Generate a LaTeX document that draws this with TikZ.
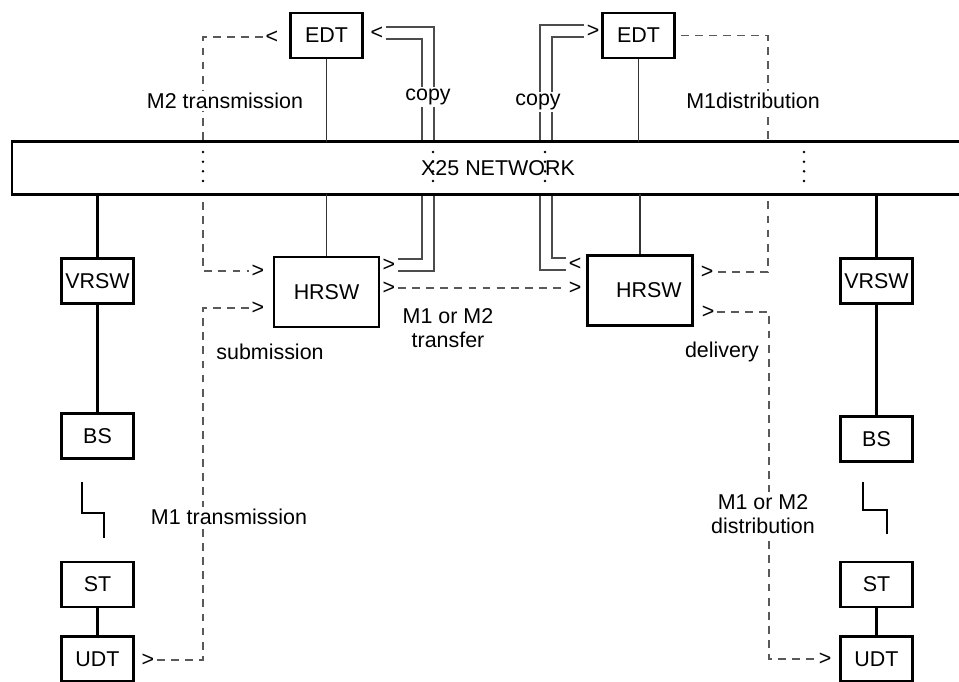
\documentclass[tikz,border=0pt]{standalone}
\usepackage{fontspec}
\setmainfont{Liberation Sans}
\usetikzlibrary{backgrounds}

\begin{document}
\begin{tikzpicture}[x=0.02cm, y=-0.02cm, font=\fontsize{12.2}{14}\selectfont,
        box/.style={draw, line width=1.35pt, minimum width=1.44cm,
                    minimum height=0.9cm, inner sep=0pt},
        swbox/.style={box, minimum width=2.1cm, minimum height=1.4cm},
        chev/.style={inner sep=1.5pt},
        lbl/.style={fill=white, inner sep=1pt, align=center},
        msg/.style={draw=black!65, line width=0.65pt,
                    dash pattern=on 4.5pt off 3.5pt},
        wire/.style={draw=black!80, line width=0.65pt},
        trunk/.style={line width=1.35pt},
        copyln/.style={draw=black!70, line width=0.65pt, double,
                       double distance=6.2pt},
        bardots/.style={line width=1.6pt, line cap=round,
                        dash pattern=on 0pt off 5.5pt}]
  \useasboundingbox (0,0) rectangle (959,681);
  \node[fill=white, minimum width=19.44cm, minimum height=1.04cm]
        (net) at (498,168) {X25 NETWORK};
  \draw[trunk] (net.north east) -- (net.north west) -- (net.south west)
        -- (net.south east);

  \node[box]   (edtL)  at (326.5,35.5) {EDT};
  \node[box]   (edtR)  at (638.5,35.5) {EDT};
  \node[swbox] (hrswL) at (326.5,292)  {HRSW};
  \node[swbox] (hrswR) at (640,290.5)  {\hspace{10pt}HRSW};
  \node[box]   (vrswL) at (97.5,281)   {VRSW};
  \node[box]   (bsL)   at (97.5,436)   {BS};
  \node[box]   (stL)   at (97.5,584.5) {ST};
  \node[box]   (udtL)  at (97.5,659)   {UDT};
  \node[box]   (vrswR) at (876.5,281)  {VRSW};
  \node[box]   (bsR)   at (876.5,439)  {BS};
  \node[box]   (stR)   at (876.5,584.5){ST};
  \node[box]   (udtR)  at (876.5,659)  {UDT};

  \node[chev] (m2Edt)   at (272,37)  {<};
  \node[chev] (cpEdtL)  at (377,33)  {<};
  \node[chev] (cpEdtR)  at (593,31)  {>};
  \node[chev] (m2Hr)    at (258,271) {>};
  \node[chev] (m1Hr)    at (258,308) {>};
  \node[chev] (cpOutL)  at (389,265) {>};
  \node[chev] (trOut)   at (389,288) {>};
  \node[chev] (cpInR)   at (575,264) {<};
  \node[chev] (trIn)    at (575,288) {>};
  \node[chev] (distOut) at (707,272) {>};
  \node[chev] (delOut)  at (708,312) {>};
  \node[chev] (m1Udt)   at (148,660) {>};
  \node[chev] (delUdt)  at (825,659) {>};

  \node[lbl] (m2tx)   at (225,101) {M2 transmission};
  \node[lbl] (copyL)  at (428,97)  {copy};
  \node[lbl] (copyR)  at (538,102) {copy};
  \node[lbl] (m1dist) at (753,101) {M1distribution};
  \node[lbl] (subm)   at (270,352) {submission};
  \node[lbl] (trans)  at (448,328) {M1 or M2\\transfer};
  \node[lbl] (deliv)  at (722,352) {delivery};
  \node[lbl] (m1tx)   at (229,517) {M1 transmission};
  \node[lbl] (m12d)   at (763,514) {M1 or M2\\distribution};

  \draw[wire] (edtL.south) -- (edtL.south |- net.north);
  \draw[wire] (edtR.south) -- (edtR.south |- net.north);
  \draw[wire] (hrswL.north) -- (hrswL.north |- net.south);
  \draw[wire] (hrswR.north) -- (hrswR.north |- net.south);

  \draw[trunk] (vrswL.north |- net.south) -- (vrswL.north);
  \draw[trunk] (vrswL) -- (bsL);
  \draw[trunk] (stL) -- (udtL);
  \draw[trunk] (82,482) |- (104,513) -- (104,538);
  \draw[trunk] (vrswR.north |- net.south) -- (vrswR.north);
  \draw[trunk] (vrswR) -- (bsR);
  \draw[trunk] (stR) -- (udtR);
  \draw[trunk] (863,482) |- (887,510) -- (887,534);

  \begin{scope}[on background layer]
    \draw[msg] (m2Edt.west) -| (203,271) -- (m2Hr.west);
    \draw[msg] (m1Udt.east) -| (203,308) -- (m1Hr.west);
    \draw[msg] (trOut.east) -- (trIn.west);
    \draw[msg, shorten <=3pt] (edtR.east) -| (768,272) -- (distOut.east);
    \draw[msg] (delOut.east) -| (769,659) -- (delUdt.west);
    \draw[copyln] (cpEdtL.east) -| (428,265) -- (cpOutL.east);
    \draw[copyln] (cpEdtR.west) -| (546,264) -- (cpInR.west);
  \end{scope}

  \draw[bardots] (203,152) -- (203,186) (433,152) -- (433,186)
        (545,152) -- (545,186) (804,152) -- (804,186);
\end{tikzpicture}
\end{document}
